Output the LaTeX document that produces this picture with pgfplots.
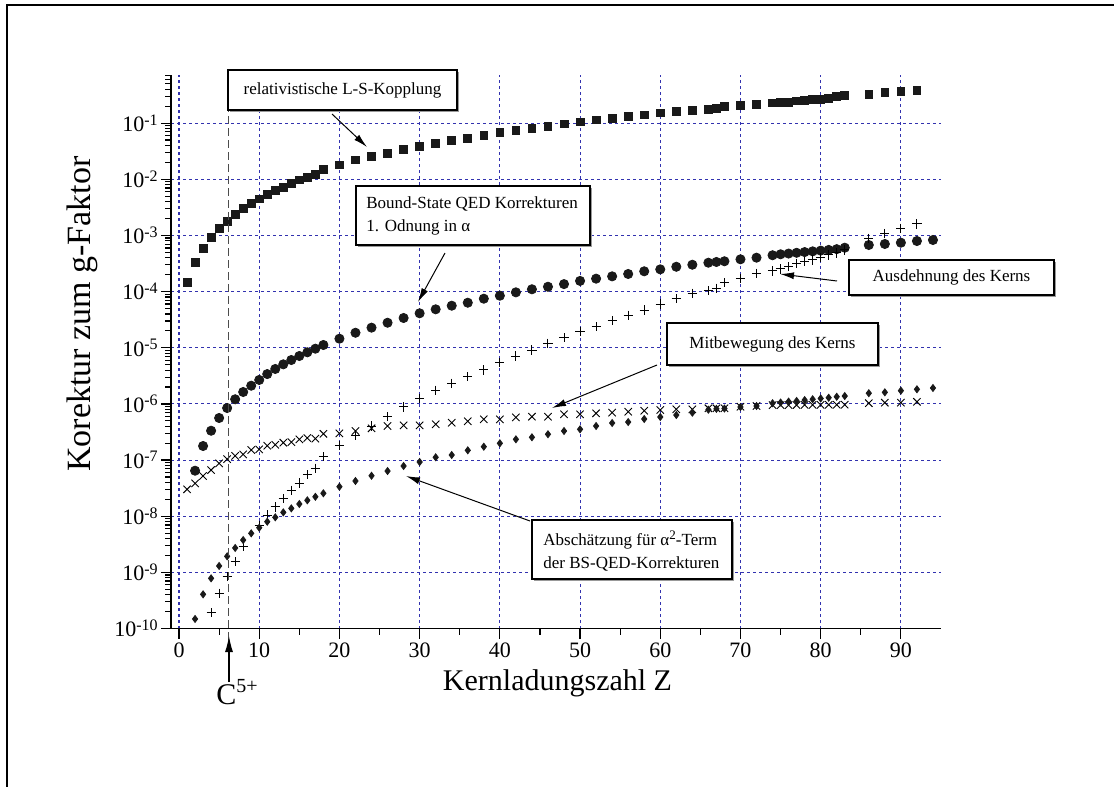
\documentclass[border=0pt]{standalone}
\usepackage{fontspec}
\setmainfont{Liberation Serif}
\usepackage{pgfplots}
\pgfplotsset{compat=1.18}
\usepackage{pgfplotstable}
\usetikzlibrary{arrows.meta}

\definecolor{gridblue}{RGB}{50,50,175}
\definecolor{markblack}{RGB}{25,25,25}

% relativistische L-S-Kopplung
\pgfplotstableread{
Z val
1 1.47e-4
2 3.33e-4
3 5.81e-4
4 9.12e-4
5 1.32e-3
6 1.79e-3
7 2.38e-3
8 2.99e-3
9 3.67e-3
10 4.46e-3
11 5.32e-3
12 6.27e-3
13 7.29e-3
14 8.49e-3
15 9.72e-3
16 1.09e-2
17 1.21e-2
18 1.48e-2
20 1.80e-2
22 2.21e-2
24 2.53e-2
26 2.90e-2
28 3.42e-2
30 3.81e-2
32 4.38e-2
34 4.95e-2
36 5.43e-2
38 6.08e-2
40 6.76e-2
42 7.46e-2
44 8.09e-2
46 8.79e-2
48 9.66e-2
50 0.105
52 0.114
54 0.122
56 0.130
58 0.140
60 0.152
62 0.163
64 0.171
66 0.177
67 0.184
68 0.196
70 0.208
72 0.219
74 0.229
75 0.235
76 0.238
77 0.248
78 0.255
79 0.262
80 0.269
81 0.280
82 0.298
83 0.317
86 0.330
88 0.348
90 0.363
92 0.378
}\lsdata

% Bound-State QED, 1. Ordnung in alpha
\pgfplotstableread{
Z val
2 6.46e-8
3 1.78e-7
4 3.33e-7
5 5.61e-7
6 8.45e-7
7 1.21e-6
8 1.63e-6
9 2.11e-6
10 2.67e-6
11 3.40e-6
12 4.19e-6
13 5.07e-6
14 6.05e-6
15 7.13e-6
16 8.30e-6
17 9.62e-6
18 1.12e-5
20 1.45e-5
22 1.85e-5
24 2.28e-5
26 2.79e-5
28 3.39e-5
30 4.11e-5
32 4.84e-5
34 5.61e-5
36 6.34e-5
38 7.48e-5
40 8.45e-5
42 9.70e-5
44 1.10e-4
46 1.22e-4
48 1.36e-4
50 1.55e-4
52 1.70e-4
54 1.87e-4
56 2.06e-4
58 2.30e-4
60 2.49e-4
62 2.77e-4
64 3.01e-4
66 3.27e-4
67 3.37e-4
68 3.47e-4
70 3.76e-4
72 4.02e-4
74 4.44e-4
75 4.62e-4
76 4.76e-4
77 4.91e-4
78 5.06e-4
79 5.21e-4
80 5.37e-4
81 5.53e-4
82 5.70e-4
83 6.05e-4
86 6.76e-4
88 7.05e-4
90 7.43e-4
92 7.96e-4
94 8.30e-4
}\qeddata

% Ausdehnung des Kerns
\pgfplotstableread{
Z val
4 1.91e-10
5 4.24e-10
6 8.38e-10
7 1.55e-9
8 2.86e-9
10 6.89e-9
11 1.05e-8
12 1.46e-8
13 2.08e-8
14 2.89e-8
15 3.90e-8
16 5.48e-8
17 7.13e-8
18 1.15e-7
20 1.83e-7
22 2.79e-7
24 4.04e-7
26 5.92e-7
28 8.81e-7
30 1.24e-6
32 1.75e-6
34 2.33e-6
36 3.05e-6
38 4.02e-6
40 5.42e-6
42 7.13e-6
44 9.12e-6
46 1.20e-5
48 1.51e-5
50 1.93e-5
52 2.37e-5
54 3.03e-5
56 3.78e-5
58 4.70e-5
60 6.01e-5
62 7.48e-5
64 9.33e-5
66 1.04e-4
67 1.15e-4
68 1.44e-4
70 1.73e-4
72 2.12e-4
74 2.33e-4
75 2.53e-4
76 2.77e-4
77 3.19e-4
78 3.41e-4
79 3.66e-4
80 4.02e-4
81 4.49e-4
82 4.88e-4
83 5.51e-4
86 8.89e-4
88 1.09e-3
90 1.34e-3
92 1.60e-3
}\sizedata

% Mitbewegung des Kerns
\pgfplotstableread{
Z val
1 3.01e-8
2 3.85e-8
3 5.20e-8
4 6.65e-8
5 8.75e-8
6 1.04e-7
7 1.19e-7
8 1.26e-7
9 1.51e-7
10 1.55e-7
11 1.80e-7
12 1.87e-7
13 2.04e-7
14 2.09e-7
15 2.34e-7
16 2.47e-7
17 2.40e-7
18 2.94e-7
20 2.99e-7
22 3.29e-7
24 3.67e-7
26 4.04e-7
28 4.16e-7
30 4.16e-7
32 4.34e-7
34 4.62e-7
36 4.90e-7
38 5.32e-7
40 5.32e-7
42 5.77e-7
44 5.92e-7
46 5.92e-7
48 6.53e-7
50 6.53e-7
52 6.81e-7
54 6.97e-7
56 7.26e-7
58 7.57e-7
60 7.78e-7
62 8.02e-7
64 8.02e-7
66 8.36e-7
67 8.36e-7
68 8.36e-7
70 8.91e-7
72 9.18e-7
74 9.50e-7
75 9.52e-7
76 9.54e-7
77 9.56e-7
78 9.58e-7
79 9.60e-7
80 9.62e-7
81 9.64e-7
82 9.66e-7
83 9.70e-7
86 1.03e-6
88 1.05e-6
90 1.05e-6
92 1.09e-6
}\recoildata

% Abschaetzung alpha^2-Term
\pgfplotstableread{
Z val
2 1.48e-10
3 4.06e-10
4 7.83e-10
5 1.30e-9
6 1.93e-9
7 2.72e-9
8 3.77e-9
9 4.95e-9
10 6.24e-9
11 7.98e-9
12 9.55e-9
13 1.17e-8
14 1.38e-8
15 1.65e-8
16 1.92e-8
17 2.22e-8
18 2.56e-8
20 3.35e-8
22 4.24e-8
24 5.26e-8
26 6.38e-8
28 7.83e-8
30 9.23e-8
32 1.12e-7
34 1.23e-7
36 1.49e-7
38 1.73e-7
40 1.99e-7
42 2.34e-7
44 2.54e-7
46 2.88e-7
48 3.29e-7
50 3.53e-7
52 4.04e-7
54 4.57e-7
56 4.76e-7
58 5.38e-7
60 5.85e-7
62 6.34e-7
64 6.97e-7
66 7.89e-7
67 8.18e-7
68 8.28e-7
70 8.81e-7
72 9.18e-7
74 1.03e-6
75 1.06e-6
76 1.10e-6
77 1.13e-6
78 1.17e-6
79 1.21e-6
80 1.25e-6
81 1.29e-6
82 1.34e-6
83 1.38e-6
86 1.55e-6
88 1.61e-6
90 1.72e-6
92 1.82e-6
94 1.92e-6
}\alphadata

% power-of-ten tick label: 10 with a raised exponent
\newcommand{\pten}[1]{10\raisebox{3.2pt}{\fontsize{8}{8}\selectfont #1}}

% box with a thin grey shadow: corners (x1,y1) (x2,y2)
\newcommand{\notebox}[4]{%
  \fill[black!40] ({#1+0.9pt},{#2-0.9pt}) rectangle ({#3+0.9pt},{#4-0.9pt});
  \draw[fill=white, line width=0.6pt] (#1,#2) rectangle (#3,#4);
}

\begin{document}
\begin{tikzpicture}
\path[use as bounding box] (0,0) rectangle (557pt,-393.5pt);

\begin{axis}[
  at={(85.5pt,-314.25pt)}, anchor=south west,
  scale only axis, width=385pt, height=276.75pt,
  ymode=log,
  xmin=-1, xmax=95, ymin=1e-10, ymax=0.72,
  axis lines*=left,
  axis line style={line width=0.7pt},
  tick align=outside,
  xtick={0,10,...,90}, minor x tick num=1,
  ytick={1e-10,1e-9,1e-8,1e-7,1e-6,1e-5,1e-4,1e-3,1e-2,1e-1},
  yticklabels={\pten{-10},\pten{-9},\pten{-8},\pten{-7},\pten{-6},\pten{-5},\pten{-4},\pten{-3},\pten{-2},\pten{-1}},
  minor ytick={2e-10,3e-10,4e-10,5e-10,6e-10,7e-10,8e-10,9e-10,
               2e-9,3e-9,4e-9,5e-9,6e-9,7e-9,8e-9,9e-9,
               2e-8,3e-8,4e-8,5e-8,6e-8,7e-8,8e-8,9e-8,
               2e-7,3e-7,4e-7,5e-7,6e-7,7e-7,8e-7,9e-7,
               2e-6,3e-6,4e-6,5e-6,6e-6,7e-6,8e-6,9e-6,
               2e-5,3e-5,4e-5,5e-5,6e-5,7e-5,8e-5,9e-5,
               2e-4,3e-4,4e-4,5e-4,6e-4,7e-4,8e-4,9e-4,
               2e-3,3e-3,4e-3,5e-3,6e-3,7e-3,8e-3,9e-3,
               2e-2,3e-2,4e-2,5e-2,6e-2,7e-2,8e-2,9e-2,
               0.2,0.3,0.4,0.5,0.6,0.7},
  major tick length=5pt, minor tick length=3pt,
  tick style={black, line width=0.6pt},
  grid=major,
  major grid style={gridblue, dash pattern=on 1.5pt off 1.5pt, line width=0.55pt},
  ticklabel style={font=\fontsize{11}{13}\selectfont},
  yticklabel style={inner sep=1.5pt},
  xticklabel style={inner sep=2pt},
  /pgf/number format/assume math mode=true,
  clip=false,
]
\addplot[only marks, mark=square*, mark size=1.95pt, color=markblack] table[x=Z, y=val] {\lsdata};
\addplot[only marks, mark=*, mark size=2.3pt, color=markblack] table[x=Z, y=val] {\qeddata};
\addplot[only marks, mark=+, mark size=2.3pt, color=black, mark options={line width=0.5pt}] table[x=Z, y=val] {\sizedata};
\addplot[only marks, mark=x, mark size=2.6pt, color=black, mark options={line width=0.45pt}] table[x=Z, y=val] {\recoildata};
\addplot[only marks, mark=diamond*, mark size=1.75pt, color=markblack] table[x=Z, y=val] {\alphadata};
\end{axis}

% outer frame
\draw[line width=1.35pt] (3.5pt,-393.5pt) -- (3.5pt,-2.5pt) -- (557pt,-2.5pt);

% C5+ marker line and arrow
\draw[black!70, line width=0.65pt, dash pattern=on 4pt off 2pt] (114.25pt,-40pt) -- (114.25pt,-320pt);
\draw[line width=0.6pt, -{Latex[length=8pt,width=4pt]}] (114.5pt,-341pt) -- (114.5pt,-318pt);
\node[font=\fontsize{15}{18}\selectfont] at (118.5pt,-346pt) {C\raisebox{6pt}{\fontsize{10}{10}\selectfont 5+}};

% axis titles
\node[font=\fontsize{15}{18}\selectfont] at (278.75pt,-341.5pt) {Kernladungszahl Z};
\node[rotate=90, font=\fontsize{17}{20}\selectfont] at (41pt,-157pt) {Korektur zum g-Faktor};

% annotations
\begin{scope}[font=\fontsize{8.5}{11.5}\selectfont, arr/.style={line width=0.5pt, -{Latex[length=7pt,width=3.5pt]}}]
\notebox{114pt}{-35pt}{228.5pt}{-55pt}
\node at (171.25pt,-45pt) {relativistische L-S-Kopplung};
\draw[arr] (166pt,-57pt) -- (183.5pt,-73.5pt);

\notebox{178pt}{-93pt}{295pt}{-122.5pt}
\node[anchor=west, align=left, inner sep=0pt] at (183pt,-107.75pt) {Bound-State QED Korrekturen\\1. Odnung in α};
\draw[arr] (222.5pt,-126.5pt) -- (209pt,-151pt);

\notebox{424.5pt}{-130pt}{527pt}{-147.5pt}
\node at (475.75pt,-138.75pt) {Ausdehnung des Kerns};
\draw[arr] (418.5pt,-140.5pt) -- (390pt,-137pt);

\notebox{333.5pt}{-161.5pt}{439pt}{-182.5pt}
\node at (386.25pt,-172pt) {Mitbewegung des Kerns};
\draw[arr] (328.5pt,-182.5pt) -- (276pt,-204pt);

\notebox{266pt}{-260pt}{366pt}{-289.5pt}
\node[anchor=west, align=left, inner sep=0pt] at (271.5pt,-275.75pt) {Abschätzung für α\raisebox{3pt}{\fontsize{6.5}{6.5}\selectfont 2}-Term\\der BS-QED-Korrekturen};
\draw[arr] (265pt,-260.5pt) -- (203pt,-238pt);
\end{scope}
\end{tikzpicture}
\end{document}
